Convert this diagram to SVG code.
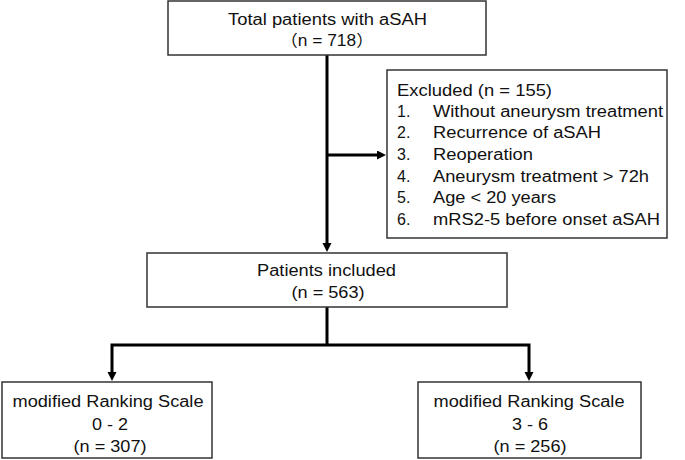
<svg xmlns="http://www.w3.org/2000/svg" width="685" height="460" viewBox="0 0 685 460">
<defs>
<style>
.box{fill:#fff;stroke:#333;stroke-width:1.5}
.t{font-family:"Liberation Sans","Noto Sans CJK JP",Arial,sans-serif;font-size:16px;fill:#111}
.m{text-anchor:middle}
.ln{fill:none;stroke:#000;stroke-width:3}
</style>
<marker id="ah" markerWidth="10" markerHeight="10" refX="0" refY="4.5" orient="auto-start-reverse" markerUnits="userSpaceOnUse">
<path d="M0,0 L9,4.5 L0,9 Z" fill="#000"/>
</marker>
</defs>
<rect width="685" height="460" fill="#fff"/>
<g id="connectors">
<line class="ln" x1="327" y1="55" x2="327" y2="243" marker-end="url(#ah)"/>
<line class="ln" x1="327" y1="155" x2="377" y2="155" marker-end="url(#ah)"/>
<line class="ln" x1="327" y1="307" x2="327" y2="345"/>
<path class="ln" d="M112,372 V345 H529 V372" marker-start="url(#ah)" marker-end="url(#ah)"/>
</g>
<g id="total">
<rect class="box" x="168" y="1" width="318" height="54"/>
<text class="t m" x="327.5" y="25" textLength="199" lengthAdjust="spacingAndGlyphs">Total patients with aSAH</text>
<text class="t m" x="327" y="46" textLength="93" lengthAdjust="spacingAndGlyphs">（n = 718）</text>
</g>
<g id="excluded">
<rect class="box" x="387" y="70" width="280" height="168"/>
<text class="t" x="397" y="96" textLength="155" lengthAdjust="spacingAndGlyphs">Excluded (n = 155)</text>
<text class="t" x="397" y="117">1.</text>
<text class="t" x="433" y="117" textLength="230" lengthAdjust="spacingAndGlyphs">Without aneurysm treatment</text>
<text class="t" x="397" y="138">2.</text>
<text class="t" x="433" y="138" textLength="168" lengthAdjust="spacingAndGlyphs">Recurrence of aSAH</text>
<text class="t" x="397" y="160">3.</text>
<text class="t" x="433" y="160" textLength="100" lengthAdjust="spacingAndGlyphs">Reoperation</text>
<text class="t" x="397" y="182">4.</text>
<text class="t" x="433" y="182" textLength="216" lengthAdjust="spacingAndGlyphs">Aneurysm treatment &gt; 72h</text>
<text class="t" x="397" y="203">5.</text>
<text class="t" x="433" y="203" textLength="123" lengthAdjust="spacingAndGlyphs">Age &lt; 20 years</text>
<text class="t" x="397" y="225">6.</text>
<text class="t" x="433" y="225" textLength="227" lengthAdjust="spacingAndGlyphs">mRS2-5 before onset aSAH</text>
</g>
<g id="included">
<rect class="box" x="147" y="253" width="360" height="54"/>
<text class="t m" x="326.5" y="276" textLength="139" lengthAdjust="spacingAndGlyphs">Patients included</text>
<text class="t m" x="328" y="298" textLength="73" lengthAdjust="spacingAndGlyphs">(n = 563)</text>
</g>
<g id="mrs02">
<rect class="box" x="2" y="382" width="210" height="76"/>
<text class="t m" x="108" y="407" textLength="191" lengthAdjust="spacingAndGlyphs">modified Ranking Scale</text>
<text class="t m" x="110" y="430" textLength="36" lengthAdjust="spacingAndGlyphs">0 - 2</text>
<text class="t m" x="110" y="452" textLength="73" lengthAdjust="spacingAndGlyphs">(n = 307)</text>
</g>
<g id="mrs36">
<rect class="box" x="418" y="382" width="223" height="76"/>
<text class="t m" x="529" y="407" textLength="191" lengthAdjust="spacingAndGlyphs">modified Ranking Scale</text>
<text class="t m" x="530" y="430" textLength="36" lengthAdjust="spacingAndGlyphs">3 - 6</text>
<text class="t m" x="530" y="452" textLength="73" lengthAdjust="spacingAndGlyphs">(n = 256)</text>
</g>
</svg>
